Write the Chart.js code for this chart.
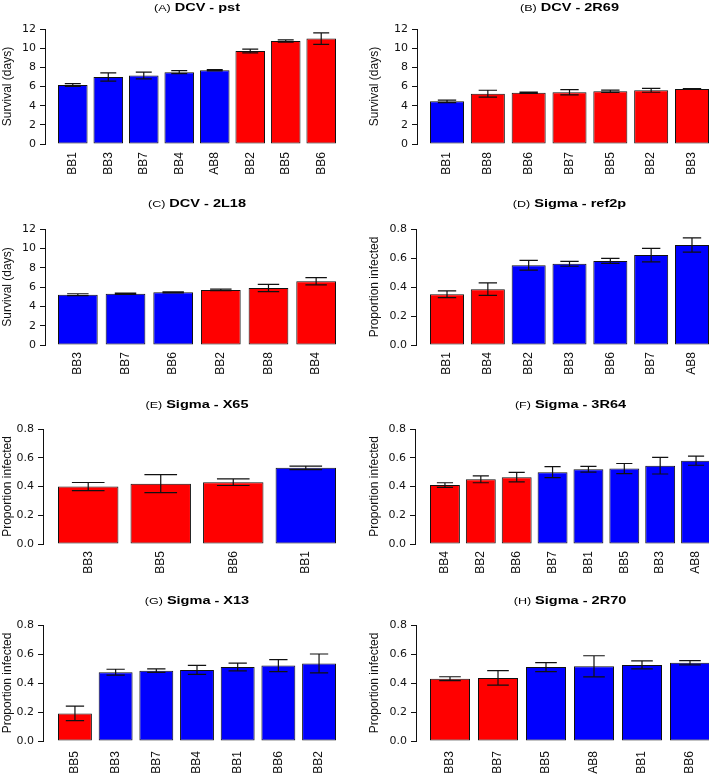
<!DOCTYPE html>
<html>
<head>
<meta charset="utf-8">
<script src="https://cdn.jsdelivr.net/npm/chart.js@4.4.1/dist/chart.umd.min.js"></script>
<style>
  html, body { margin: 0; padding: 0; background: #fff; }
  body { width: 709px; height: 774px; position: relative; overflow: hidden; }
  canvas { position: absolute; }
</style>
</head>
<body>
<canvas id="pA"></canvas>
<canvas id="pB"></canvas>
<canvas id="pC"></canvas>
<canvas id="pD"></canvas>
<canvas id="pE"></canvas>
<canvas id="pF"></canvas>
<canvas id="pG"></canvas>
<canvas id="pH"></canvas>
<script>
// tick values for the two kinds of y axis
const survivalTicks = [0, 2, 4, 6, 8, 10, 12];
const proportionTicks = [0, 0.2, 0.4, 0.6, 0.8];

// group: 1 = red bars, 0 = blue bars
// (A) DCV - pst
const catA = ["BB1", "BB3", "BB7", "BB4", "AB8", "BB2", "BB5", "BB6"];
const valA = [6.15, 7.0, 7.15, 7.5, 7.7, 9.7, 10.75, 11.0];
const errA = [0.15, 0.43, 0.35, 0.15, 0.07, 0.2, 0.12, 0.6];
const grpA = [0, 0, 0, 0, 0, 1, 1, 1];

// (B) DCV - 2R69
const catB = ["BB1", "BB8", "BB6", "BB7", "BB5", "BB2", "BB3"];
const valB = [4.45, 5.25, 5.35, 5.4, 5.5, 5.6, 5.75];
const errB = [0.13, 0.36, 0.06, 0.28, 0.12, 0.2, 0.04];
const grpB = [0, 1, 1, 1, 1, 1, 1];

// (C) DCV - 2L18
const catC = ["BB3", "BB7", "BB6", "BB2", "BB8", "BB4"];
const valC = [5.2, 5.3, 5.45, 5.7, 5.9, 6.6];
const errC = [0.1, 0.07, 0.05, 0.07, 0.37, 0.38];
const grpC = [0, 0, 0, 1, 1, 1];

// (D) Sigma - ref2p
const catD = ["BB1", "BB4", "BB2", "BB3", "BB6", "BB7", "AB8"];
const valD = [0.35, 0.385, 0.55, 0.56, 0.58, 0.62, 0.69];
const errD = [0.023, 0.043, 0.034, 0.017, 0.017, 0.047, 0.049];
const grpD = [1, 1, 0, 0, 0, 0, 0];

// (E) Sigma - X65
const catE = ["BB3", "BB5", "BB6", "BB1"];
const valE = [0.4, 0.42, 0.43, 0.53];
const errE = [0.028, 0.063, 0.023, 0.012];
const grpE = [1, 1, 1, 0];

// (F) Sigma - 3R64
const catF = ["BB4", "BB2", "BB6", "BB7", "BB1", "BB5", "BB3", "AB8"];
const valF = [0.41, 0.45, 0.465, 0.5, 0.52, 0.525, 0.545, 0.58];
const errF = [0.016, 0.024, 0.033, 0.038, 0.02, 0.035, 0.058, 0.032];
const grpF = [1, 1, 1, 0, 0, 0, 0, 0];

// (G) Sigma - X13
const catG = ["BB5", "BB3", "BB7", "BB4", "BB1", "BB6", "BB2"];
const valG = [0.19, 0.475, 0.485, 0.49, 0.51, 0.52, 0.535];
const errG = [0.05, 0.02, 0.012, 0.031, 0.027, 0.041, 0.065];
const grpG = [1, 0, 0, 0, 0, 0, 0];

// (H) Sigma - 2R70
const catH = ["BB3", "BB7", "BB5", "AB8", "BB1", "BB6"];
const valH = [0.43, 0.435, 0.51, 0.515, 0.525, 0.54];
const errH = [0.013, 0.05, 0.031, 0.073, 0.028, 0.015];
const grpH = [1, 1, 0, 0, 0, 0];

const panels = [
  { id: "pA", tag: "(A)", name: "DCV - pst", cats: catA, vals: valA, errs: errA, grp: grpA, ticks: survivalTicks, ytitle: "Survival (days)",
    left: 0, top: 0, h: 195, axisX: 45, yTop: 29, yBot: 144, barL: 58, barR: 336, tOff: 21, lab: 8 },
  { id: "pB", tag: "(B)", name: "DCV - 2R69", cats: catB, vals: valB, errs: errB, grp: grpB, ticks: survivalTicks, ytitle: "Survival (days)",
    left: 367, top: 0, h: 195, axisX: 417, yTop: 29, yBot: 144, barL: 430, barR: 709, tOff: 21, lab: 8 },
  { id: "pC", tag: "(C)", name: "DCV - 2L18", cats: catC, vals: valC, errs: errC, grp: grpC, ticks: survivalTicks, ytitle: "Survival (days)",
    left: 0, top: 195, h: 195, axisX: 45, yTop: 229, yBot: 345, barL: 58, barR: 336, tOff: 25, lab: 7 },
  { id: "pD", tag: "(D)", name: "Sigma - ref2p", cats: catD, vals: valD, errs: errD, grp: grpD, ticks: proportionTicks, ytitle: "Proportion infected",
    left: 367, top: 195, h: 195, axisX: 416, yTop: 229, yBot: 345, barL: 430, barR: 709, tOff: 25, lab: 7 },
  { id: "pE", tag: "(E)", name: "Sigma - X65", cats: catE, vals: valE, errs: errE, grp: grpE, ticks: proportionTicks, ytitle: "Proportion infected",
    left: 0, top: 390, h: 190, axisX: 43, yTop: 429, yBot: 544, barL: 58, barR: 336, tOff: 24, lab: 7 },
  { id: "pF", tag: "(F)", name: "Sigma - 3R64", cats: catF, vals: valF, errs: errF, grp: grpF, ticks: proportionTicks, ytitle: "Proportion infected",
    left: 367, top: 390, h: 190, axisX: 415, yTop: 429, yBot: 544, barL: 430, barR: 711, tOff: 24, lab: 7 },
  { id: "pG", tag: "(G)", name: "Sigma - X13", cats: catG, vals: valG, errs: errG, grp: grpG, ticks: proportionTicks, ytitle: "Proportion infected",
    left: 0, top: 580, h: 194, axisX: 43, yTop: 625, yBot: 741, barL: 58, barR: 336, tOff: 24, lab: 10 },
  { id: "pH", tag: "(H)", name: "Sigma - 2R70", cats: catH, vals: valH, errs: errH, grp: grpH, ticks: proportionTicks, ytitle: "Proportion infected",
    left: 367, top: 580, h: 194, axisX: 416, yTop: 625, yBot: 741, barL: 430, barR: 710, tOff: 24, lab: 10 }
];

const RED = "#ff0000";
const BLUE = "#0000ff";
const INK = "#111";
const SANS = "'Liberation Sans', Arial, Helvetica, sans-serif";

// error bars drawn from the dataset's "errors" through the y scale
const errorBars = {
  id: "errorBars",
  afterDatasetsDraw(chart) {
    const ds = chart.data.datasets[0];
    const meta = chart.getDatasetMeta(0);
    const y = chart.scales.y;
    const ctx = chart.ctx;
    ctx.save();
    ctx.strokeStyle = INK;
    ctx.lineWidth = 1.2;
    meta.data.forEach((bar, i) => {
      const v = ds.data[i].y;
      const e = ds.errors[i];
      const hi = y.getPixelForValue(v + e);
      const lo = y.getPixelForValue(v - e);
      const half = bar.width * 0.27;
      ctx.beginPath();
      ctx.moveTo(bar.x, hi);
      ctx.lineTo(bar.x, lo);
      ctx.moveTo(bar.x - half, hi);
      ctx.lineTo(bar.x + half, hi);
      ctx.moveTo(bar.x - half, lo);
      ctx.lineTo(bar.x + half, lo);
      ctx.stroke();
    });
    ctx.restore();
  }
};

// panel heading: small "(A)" then bold name, centred over the plot area
const panelTitle = {
  id: "panelTitle",
  afterDraw(chart, args, opts) {
    const ctx = chart.ctx;
    const area = chart.chartArea;
    const sx = 1.32;
    ctx.save();
    const tagFont = "9.5px " + SANS;
    const nameFont = "bold 11px " + SANS;
    ctx.font = tagFont;
    const w1 = ctx.measureText(opts.tag).width;
    ctx.font = nameFont;
    const w2 = ctx.measureText(opts.text).width;
    const gap = 3;
    const total = (w1 + gap + w2) * sx;
    const x0 = (area.left + area.right) / 2 - total / 2;
    const y = area.top - opts.offset;
    ctx.translate(x0, y);
    ctx.scale(sx, 1);
    ctx.fillStyle = "#000";
    ctx.textBaseline = "middle";
    ctx.font = tagFont;
    ctx.fillText(opts.tag, 0, 0.5);
    ctx.font = nameFont;
    ctx.fillText(opts.text, w1 + gap, 0);
    ctx.restore();
  }
};

panels.forEach(p => {
  const canvas = document.getElementById(p.id);
  const W = 360;
  canvas.width = W;
  canvas.height = p.h;
  canvas.style.left = p.left + "px";
  canvas.style.top = p.top + "px";

  const n = p.cats.length;
  const half = 0.8333 / 2;
  const gapPx = p.barL - p.axisX;
  const slot = (p.barR - p.barL) / (n - 1 + 2 * half);
  const g = gapPx / slot;
  const areaRight = p.barR + gapPx;
  const yMax = p.ticks[p.ticks.length - 1];
  const isProp = p.ticks === proportionTicks;

  new Chart(canvas, {
    type: "bar",
    data: {
      datasets: [{
        data: p.vals.map((v, i) => ({ x: i, y: v })),
        errors: p.errs,
        backgroundColor: p.grp.map(k => (k ? RED : BLUE)),
        borderColor: INK,
        borderWidth: 1,
        borderSkipped: false,
        barPercentage: 0.8333,
        categoryPercentage: 1
      }]
    },
    options: {
      responsive: false,
      animation: false,
      devicePixelRatio: 1,
      layout: {
        padding: { left: 0, top: p.yTop - p.top, right: p.left + W - areaRight, bottom: 0 }
      },
      plugins: {
        legend: { display: false },
        tooltip: { enabled: false },
        panelTitle: { tag: p.tag, text: p.name, offset: p.tOff }
      },
      scales: {
        x: {
          type: "linear",
          offset: false,
          min: -half - g,
          max: n - 1 + half + g,
          grid: { display: false, drawTicks: false },
          border: { display: false },
          afterBuildTicks: s => { s.ticks = p.cats.map((c, i) => ({ value: i })); },
          afterFit: s => { s.height = p.top + p.h - p.yBot; },
          ticks: {
            autoSkip: false,
            minRotation: 90,
            maxRotation: 90,
            padding: p.lab,
            color: INK,
            font: { family: SANS, size: 12 },
            callback: v => p.cats[v]
          }
        },
        y: {
          min: 0,
          max: yMax,
          afterBuildTicks: s => { s.ticks = p.ticks.map(v => ({ value: v })); },
          afterFit: s => { s.width = p.axisX - p.left; },
          grid: { display: true, drawOnChartArea: false, drawTicks: true, tickLength: 5, color: INK, lineWidth: 1 },
          border: { display: true, color: INK, width: 1 },
          ticks: {
            padding: 4,
            color: INK,
            font: { family: "'DejaVu Sans', sans-serif", size: 11 },
            callback: v => (isProp ? v.toFixed(1) : String(v))
          },
          title: {
            display: true,
            text: p.ytitle,
            color: INK,
            padding: { top: 0, bottom: 0 },
            font: { family: SANS, size: 12 }
          }
        }
      }
    },
    plugins: [errorBars, panelTitle]
  });
});
</script>
</body>
</html>
